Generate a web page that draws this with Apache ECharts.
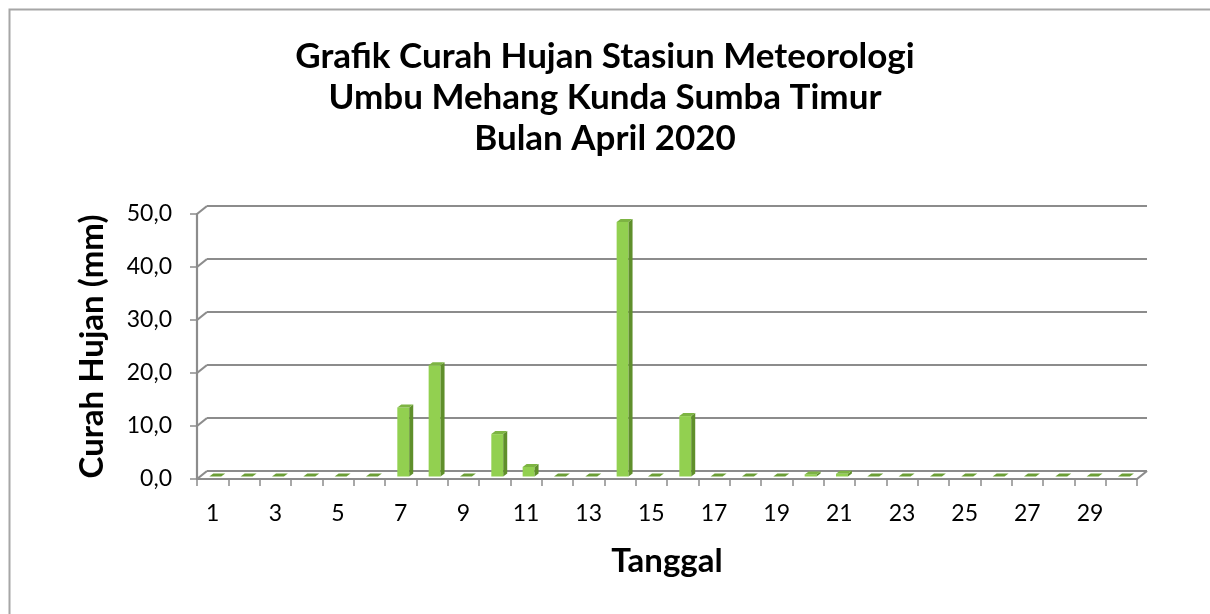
<!DOCTYPE html>
<html>
<head>
<meta charset="utf-8">
<script src="https://cdn.jsdelivr.net/npm/echarts@6/dist/echarts.min.js"></script>
<style>
  html, body { margin: 0; padding: 0; background: #fff; }
  #chart { width: 1210px; height: 614px; }
</style>
</head>
<body>
<div id="chart"></div>
<script>
// data
const days = ['1','2','3','4','5','6','7','8','9','10','11','12','13','14','15',
              '16','17','18','19','20','21','22','23','24','25','26','27','28','29','30'];
const rain = [0, 0, 0, 0, 0, 0, 13.0, 21.0, 0, 8.0, 1.8, 0, 0, 48.0, 0,
              11.4, 0, 0, 0, 0.4, 0.5, 0, 0, 0, 0, 0, 0, 0, 0, 0];
const yTicks = [0, 10, 20, 30, 40, 50];

const titleText = 'Grafik Curah Hujan Stasiun Meteorologi\nUmbu Mehang Kunda Sumba Timur\nBulan April 2020';

// 3d look
const FX = 10, FY = -8;      // depth of the wall / floor
const BX = 2.6, BY = -2.5;   // bar placed in the middle of the depth
const DX = 4, DY = -3;       // depth of a bar
const gridColor = '#8c8c8c';

const chart = echarts.init(document.getElementById('chart'));

// back gridlines + side wall diagonals
function renderFrame(params, api) {
  const v = api.value(1);
  const bw = api.size([1, 0])[0];
  const l = api.coord([0, v]);
  const r = api.coord([days.length - 1, v]);
  const L = l[0] - bw / 2, R = r[0] + bw / 2, y = l[1];
  const st = { stroke: gridColor, lineWidth: 2.2 };
  const kids = [
    { type: 'line', shape: { x1: L + FX, y1: y + FY, x2: R + FX, y2: y + FY }, style: st },
    { type: 'line', shape: { x1: L, y1: y, x2: L + FX, y2: y + FY }, style: st }
  ];
  if (v === 0) {
    kids.push({ type: 'line', shape: { x1: R, y1: y, x2: R + FX, y2: y + FY }, style: st });
  }
  return { type: 'group', children: kids };
}

function renderBar(params, api) {
  const i = api.value(0), v = api.value(1);
  const bw = api.size([1, 0])[0];
  const base = api.coord([i, 0]);
  const top = api.coord([i, v]);
  const w = bw * 0.38;
  const x0 = base[0] - w / 2 + BX, x1 = x0 + w;
  const yb = base[1] + BY, yt = top[1] + BY;
  const kids = [];
  if (v > 0) {
    kids.push({ type: 'rect', shape: { x: x0, y: yt, width: w, height: yb - yt },
                style: { fill: '#92d050' } });
    kids.push({ type: 'polygon', shape: { points: [[x1, yt], [x1 + DX, yt + DY], [x1 + DX, yb + DY], [x1, yb]] },
                style: { fill: '#5f8f2b' } });
    kids.push({ type: 'polygon', shape: { points: [[x0, yt], [x0 + DX, yt + DY], [x1 + DX, yt + DY], [x1, yt]] },
                style: { fill: '#7db443' } });
  } else {
    kids.push({ type: 'polygon', shape: { points: [[x0, yt], [x0 + DX, yt + DY], [x1 + DX, yt + DY], [x1, yt]] },
                style: { fill: '#6b9e36' } });
  }
  return { type: 'group', children: kids };
}

const option = {
  animation: false,
  backgroundColor: '#fff',
  textStyle: { fontFamily: 'Lato' },
  graphic: [{
    type: 'rect', left: 7, top: 7, z: -10,
    shape: { width: 1300, height: 700 },
    style: { fill: 'none', stroke: '#a6a6a6', lineWidth: 2 }
  }],
  title: {
    text: titleText,
    left: 'center',
    top: 31,
    textStyle: { fontFamily: 'Lato', fontSize: 35, fontWeight: 'bold', color: '#000', lineHeight: 41 }
  },
  grid: { left: 197, right: 73, top: 214, bottom: 135 },
  xAxis: {
    type: 'category',
    data: days,
    name: 'Tanggal',
    nameLocation: 'middle',
    nameGap: 66,
    nameTextStyle: { fontFamily: 'Lato', fontSize: 33, fontWeight: 'bold', color: '#000' },
    axisLine: { lineStyle: { color: gridColor, width: 2.2 } },
    axisTick: { show: true, interval: 0, length: 7, lineStyle: { color: gridColor, width: 1.5 } },
    axisLabel: { interval: 1, margin: 23, fontSize: 23, color: '#000' },
    splitLine: { show: false }
  },
  yAxis: {
    type: 'value',
    min: 0, max: 50, interval: 10,
    name: 'Curah Hujan (mm)',
    nameLocation: 'middle',
    nameRotate: 90,
    nameGap: 88,
    nameTextStyle: { fontFamily: 'Lato', fontSize: 33, fontWeight: 'bold', color: '#000' },
    axisLine: { show: true, lineStyle: { color: gridColor, width: 2.2 } },
    axisTick: { show: true, length: 7, lineStyle: { color: gridColor, width: 1.5 } },
    axisLabel: { margin: 25, fontSize: 23, color: '#000',
                 formatter: v => v.toFixed(1).replace('.', ',') },
    splitLine: { show: false }
  },
  series: [
    {
      type: 'custom',
      name: 'frame',
      renderItem: renderFrame,
      data: yTicks.map(v => [0, v]),
      encode: { x: 0, y: 1 },
      silent: true,
      z: 1
    },
    {
      type: 'custom',
      name: 'Curah Hujan',
      renderItem: renderBar,
      data: rain.map((v, i) => [i, v]),
      encode: { x: 0, y: 1 },
      z: 3
    }
  ]
};

chart.setOption(option);
</script>
</body>
</html>
